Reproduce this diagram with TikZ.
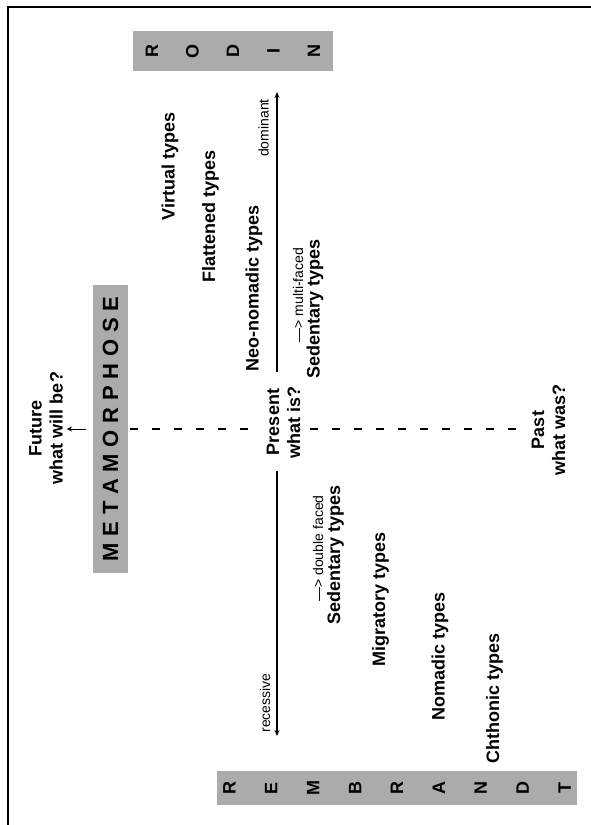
\documentclass[tikz,border=0pt]{standalone}
\usepackage{fontspec}
\setmainfont{Liberation Sans}
\usetikzlibrary{arrows.meta}
\newcommand{\lsp}{\kern6.7pt}
\begin{document}
\begin{tikzpicture}[x=1pt,y=-1pt,
  lbl/.style={rotate=90,inner sep=0pt,align=center,font=\bfseries\fontsize{18}{21}\selectfont},
  small/.style={rotate=90,inner sep=0pt,font=\fontsize{14}{16}\selectfont},
  gbox/.style={rotate=90,fill=black!33,inner sep=0pt,align=center},
  axisarrow/.style={line width=1.6pt,-{Stealth[length=6pt,width=5pt]}},
  dashln/.style={line width=2.2pt,dash pattern=on 8pt off 14pt},
  frameline/.style={line width=2pt}]
\useasboundingbox (0,0) rectangle (590,825);
\draw[frameline] (7.5,830) -- (7.5,7) -- (595,7);

% letter columns
\node[gbox,minimum width=40pt,minimum height=200pt,font=\bfseries\fontsize{18}{40.5}\selectfont] (rodin) at (233,51) {R\\O\\D\\I\\N};
\node[gbox,minimum width=34pt,minimum height=360pt,font=\bfseries\fontsize{18}{41.9}\selectfont] (rembrandt) at (397,788) {R\\E\\M\\B\\R\\A\\N\\D\\T};
\node[gbox,minimum width=288pt,minimum height=35pt,font=\bfseries\fontsize{22}{26}\selectfont] (meta) at (110.5,429) {M\lsp E\lsp T\lsp A\lsp M\lsp O\lsp R\lsp P\lsp H\lsp O\lsp S\lsp E};

% time labels
\node[lbl] (future) at (46,428) {Future\\what will be?};
\node[lbl] (present) at (283.5,422) {Present\\what is?};
\node[lbl] (past) at (548.5,430) {Past\\what was?};

% type labels
\node[lbl] (virtual) at (170,166.5) {Virtual types};
\node[lbl] (flattened) at (210.5,216) {Flattened types};
\node[lbl] (neonomadic) at (254,288) {Neo-nomadic types};
\node[small] (multi) at (298,295) {—> multi-faced};
\node[lbl] (sedup) at (315,309) {Sedentary types};
\node[small] (double) at (318,548.5) {—> double faced};
\node[lbl] (sedlow) at (335.5,555) {Sedentary types};
\node[lbl] (migratory) at (380.5,599.5) {Migratory types};
\node[lbl] (nomadic) at (440,656) {Nomadic types};
\node[lbl] (chthonic) at (494.5,698) {Chthonic types};
\node[small] (dominant) at (263.5,128) {dominant};
\node[small] (recessive) at (265,703) {recessive};

% axes
\coordinate (domS) at (277,372);
\coordinate (domE) at (277,92);
\draw[axisarrow] (domS) -- (domE);
\coordinate (recS) at (277,471);
\coordinate (recE) at (277,736);
\draw[axisarrow] (recS) -- (recE);

% time line
\draw[line width=1pt,-{Stealth[length=5pt,width=5pt]},shorten <=7pt,shorten >=4pt] (meta.north) -- (meta.north -| future.south);
\draw[dashln,shorten <=2pt,shorten >=11pt] (meta.south) -- (meta.south -| present.north);
\draw[dashln,shorten <=10pt,shorten >=16pt] (meta.south -| present.south) -- (meta.south -| past.north);
\end{tikzpicture}
\end{document}
